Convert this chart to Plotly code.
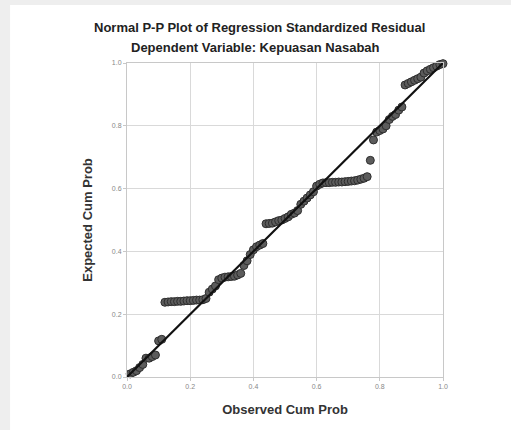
import plotly.graph_objects as go

observed = [0.01, 0.02, 0.03, 0.04, 0.05, 0.06, 0.07, 0.08, 0.09, 0.10,
            0.11, 0.12, 0.13, 0.14, 0.15, 0.16, 0.17, 0.18, 0.19, 0.20,
            0.21, 0.22, 0.23, 0.24, 0.25, 0.26, 0.27, 0.28, 0.29, 0.30,
            0.31, 0.32, 0.33, 0.34, 0.35, 0.36, 0.37, 0.38, 0.39, 0.40,
            0.41, 0.42, 0.43, 0.44, 0.45, 0.46, 0.47, 0.48, 0.49, 0.50,
            0.51, 0.52, 0.53, 0.54, 0.55, 0.56, 0.57, 0.58, 0.59, 0.60,
            0.61, 0.62, 0.63, 0.64, 0.65, 0.66, 0.67, 0.68, 0.69, 0.70,
            0.71, 0.72, 0.73, 0.74, 0.75, 0.76, 0.77, 0.78, 0.79, 0.80,
            0.81, 0.82, 0.83, 0.84, 0.85, 0.86, 0.87, 0.88, 0.89, 0.90,
            0.91, 0.92, 0.93, 0.94, 0.95, 0.96, 0.97, 0.98, 0.99, 1.00]

expected = [0.010, 0.015, 0.020, 0.030, 0.040, 0.060, 0.060, 0.065, 0.070, 0.115,
            0.120, 0.238, 0.239, 0.240, 0.240, 0.241, 0.241, 0.242, 0.243, 0.243,
            0.244, 0.245, 0.245, 0.246, 0.250, 0.270, 0.280, 0.290, 0.310, 0.315,
            0.318, 0.319, 0.320, 0.321, 0.325, 0.330, 0.355, 0.370, 0.390, 0.405,
            0.415, 0.420, 0.425, 0.488, 0.489, 0.490, 0.494, 0.498, 0.500, 0.505,
            0.510, 0.518, 0.522, 0.530, 0.550, 0.560, 0.570, 0.580, 0.590, 0.608,
            0.614, 0.618, 0.619, 0.619, 0.620, 0.620, 0.621, 0.621, 0.622, 0.623,
            0.624, 0.625, 0.627, 0.630, 0.633, 0.638, 0.690, 0.755, 0.780, 0.785,
            0.790, 0.800, 0.820, 0.830, 0.836, 0.850, 0.860, 0.930, 0.935, 0.940,
            0.945, 0.950, 0.955, 0.968, 0.975, 0.980, 0.985, 0.990, 0.995, 0.998]

ref_line = [0.0, 1.0]
tick_vals = [0.0, 0.2, 0.4, 0.6, 0.8, 1.0]
tick_text = ["0.0", "0.2", "0.4", "0.6", "0.8", "1.0"]

fig = go.Figure()
fig.add_trace(go.Scatter(
    x=observed, y=expected, mode="markers",
    marker=dict(size=8, color="#5c5c5c", line=dict(color="#2e2e2e", width=1)),
    showlegend=False, cliponaxis=False))
fig.add_trace(go.Scatter(
    x=ref_line, y=ref_line, mode="lines",
    line=dict(color="#111111", width=2.2), showlegend=False, cliponaxis=False))

axis_common = dict(
    range=[0, 1], tickvals=tick_vals, ticktext=tick_text,
    showgrid=True, gridcolor="#d9d9d9", gridwidth=1,
    showline=True, linecolor="#c8c8c8", linewidth=1, mirror=True,
    ticks="outside", ticklen=3, tickcolor="#c8c8c8",
    tickfont=dict(family="Liberation Sans, Arial", size=7, color="#888888"),
    zeroline=False, fixedrange=True)

fig.update_layout(
    width=511, height=430,
    margin=dict(l=127, r=68, t=63, b=53),
    paper_bgcolor="#eeeeee", plot_bgcolor="#ffffff",
    font=dict(family="Liberation Sans, Arial", color="#222222"),
    xaxis=dict(axis_common, title=dict(text="<b>Observed Cum Prob</b>",
               font=dict(size=13, color="#333333"), standoff=15)),
    yaxis=dict(axis_common, title=dict(text="<b>Expected Cum Prob</b>",
               font=dict(size=13, color="#333333"), standoff=16)),
    shapes=[dict(type="rect", xref="paper", yref="paper",
                 x0=-0.37, x1=1.25, y0=-0.2, y1=1.185,
                 fillcolor="#ffffff", line=dict(width=0), layer="below")],
    annotations=[
        dict(text="<b>Normal P-P Plot of Regression Standardized Residual</b>",
             xref="paper", yref="paper", x=0.419, y=(377 - 28) / 314,
             showarrow=False, font=dict(size=13, color="#222222"),
             xanchor="center", yanchor="middle"),
        dict(text="<b>Dependent Variable: Kepuasan Nasabah</b>",
             xref="paper", yref="paper", x=0.407, y=(377 - 48) / 314,
             showarrow=False, font=dict(size=13, color="#222222"),
             xanchor="center", yanchor="middle"),
    ])

fig.write_html("out.html", config={"displayModeBar": False},
               post_script="document.body.style.margin='0';document.body.style.background='#eeeeee';")
